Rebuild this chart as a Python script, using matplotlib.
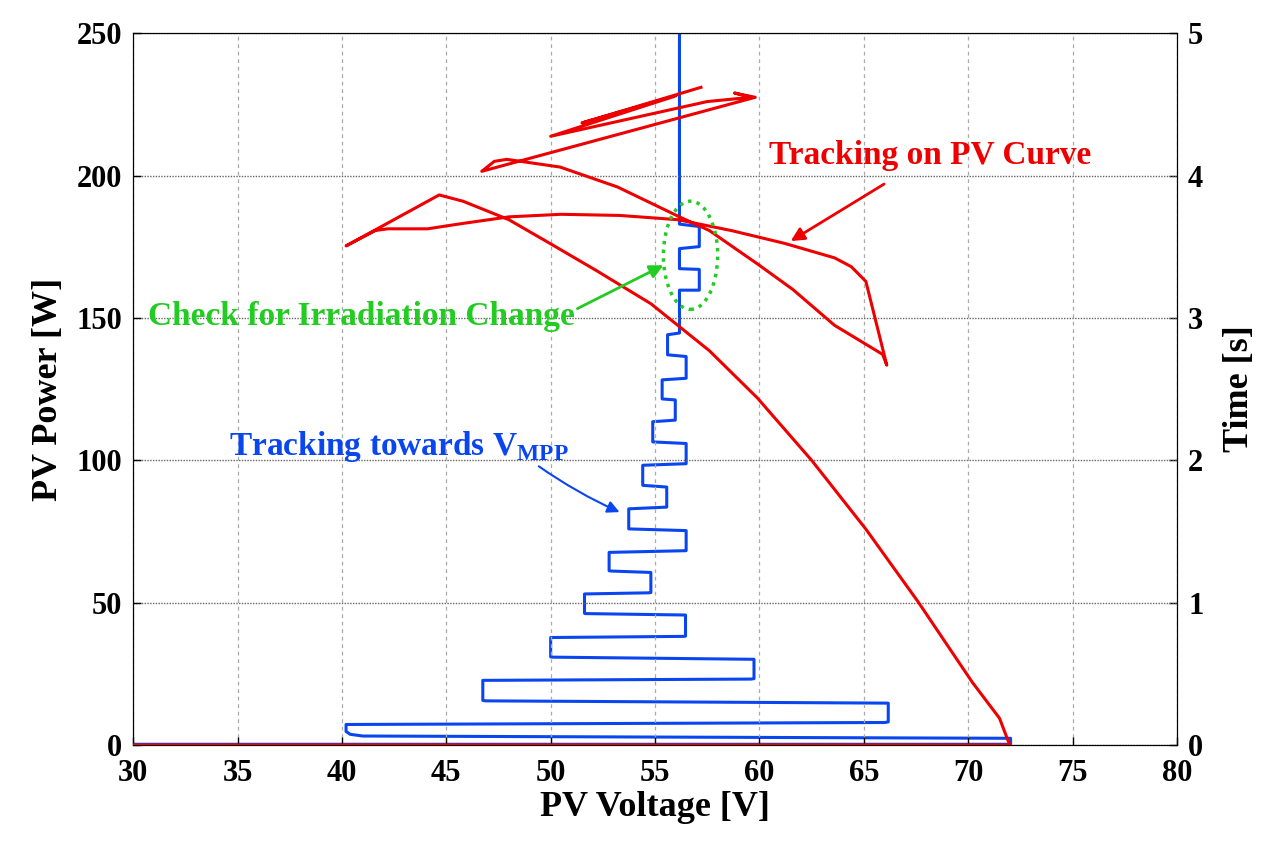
import numpy as np
import matplotlib.pyplot as plt
from matplotlib.patches import Ellipse

# red P-V trajectory (V, P)
pv_v = [30, 72.0, 71.9, 71.5, 70.2, 67.6, 65.1, 62.5, 59.9, 57.6, 54.8, 52.2, 50.1, 48.0, 45.8, 44.66,
        40.2, 41.6, 42.2, 44.1, 45.8, 48.0, 50.5, 53.3, 56.1, 58.65, 61.2, 63.6, 64.4, 65.1, 66.1,
        65.9, 63.6, 61.6, 59.9, 57.6, 56.2, 53.2, 50.45, 47.9, 47.3, 46.7,
        59.8, 58.8, 59.6, 57.5, 50.0, 56.0, 51.5, 57.2]
pv_p = [0, 0, 1.7, 9.4, 22, 50.3, 75.8, 100, 121.9, 138.5, 155, 166.6, 175.6, 184.5, 191, 193.2,
        175.3, 180.7, 181.3, 181.3, 183.2, 185.5, 186.4, 186, 184.5, 180.7, 176.2, 171.1, 168, 162.8, 133.4,
        137.2, 147.4, 160, 169, 180.7, 185.4, 196, 203, 205.7, 205, 201.5,
        227.5, 229, 227.5, 226, 213.8, 228, 218.5, 231]

# blue voltage vs time trajectory (V, t)
tr_v = [30, 72.03, 72.03, 41.0, 40.4, 40.2, 40.2, 66.0, 66.17, 66.17, 46.9, 46.75, 46.75, 59.6, 59.74,
        59.74, 50.1, 50.0, 50.0, 56.4, 56.46, 56.46, 51.7, 51.62, 51.62, 54.7, 54.8, 54.8, 52.9, 52.8,
        52.8, 56.49, 56.49, 53.74, 53.74, 55.56, 55.56, 54.41, 54.41, 56.49, 56.49, 54.89, 54.89,
        55.97, 55.97, 55.34, 55.34, 56.49, 56.49, 55.6, 55.6, 56.17, 56.17, 57.12, 57.12, 56.17,
        56.17, 57.12, 57.12, 56.17, 56.17]
tr_t = [0.005, 0.005, 0.047, 0.063, 0.075, 0.095, 0.144, 0.158, 0.162, 0.294, 0.31, 0.313, 0.454, 0.463, 0.466,
        0.602, 0.617, 0.619, 0.755, 0.763, 0.765, 0.913, 0.923, 0.925, 1.061, 1.069, 1.071, 1.212, 1.222, 1.224,
        1.353, 1.365, 1.506, 1.518, 1.659, 1.671, 1.812, 1.824, 1.965, 1.976, 2.118, 2.129, 2.271,
        2.282, 2.424, 2.431, 2.565, 2.576, 2.729, 2.741, 2.882, 2.894, 3.195, 3.195, 3.341, 3.346,
        3.487, 3.501, 3.642, 3.659, 5.0]

x_ticks = np.arange(30, 81, 5)
p_ticks = np.arange(0, 251, 50)
t_ticks = np.arange(0, 6, 1)

plt.rcParams['font.family'] = ['Liberation Serif', 'DejaVu Serif']
plt.rcParams['font.weight'] = 'bold'
plt.rcParams['mathtext.fontset'] = 'custom'
plt.rcParams['mathtext.rm'] = 'Liberation Serif:bold'
plt.rcParams['mathtext.bf'] = 'Liberation Serif:bold'

fig = plt.figure(figsize=(12.8, 8.52), dpi=100)
ax = fig.add_axes([0.104, 0.1256, 0.8155, 0.8354])
ax2 = ax.twinx()

ax.set_xlim(30, 80)
ax.set_ylim(0, 250)
ax2.set_ylim(0, 5)
ax.set_xticks(x_ticks)
ax.set_yticks(p_ticks)
ax2.set_yticks(t_ticks)

for a in (ax, ax2):
   a.tick_params(direction='in', labelsize=22, length=6, width=1)
ax.tick_params(axis='x', pad=10)
ax.tick_params(axis='y', pad=8)
ax2.tick_params(axis='y', pad=8)

ax.xaxis.grid(True, color='#aaaaaa', linestyle=(0, (3, 3)), linewidth=0.9)
ax.yaxis.grid(True, color='#666666', linestyle=(0, (1, 1)), linewidth=1.0)
ax.set_axisbelow(True)

ax2.plot(tr_v, tr_t, color='#0a46f0', linewidth=2.2, zorder=2)
ax.set_zorder(ax2.get_zorder() + 1)
ax.patch.set_visible(False)
ax.plot(pv_v, pv_p, color='#ee0000', linewidth=2.2, zorder=3)

ax.set_xlabel('PV Voltage [V]', fontsize=26, fontweight='bold', labelpad=2)
ax.set_ylabel('PV Power [W]', fontsize=26, fontweight='bold', labelpad=8)
ax2.set_ylabel('Time [s]', fontsize=26, fontweight='bold', rotation=90, labelpad=14)

ell = Ellipse((56.7, 172), 2.6, 38, fill=False, edgecolor='#22cc22', linestyle=(0, (1, 1.5)),
              linewidth=2.5, zorder=4)
ax.add_patch(ell)

ax.annotate('Tracking on PV Curve', xy=(61.5, 177), xytext=(68.2, 207), color='#ee0000',
            fontsize=24, fontweight='bold', ha='center', va='center',
            arrowprops=dict(arrowstyle='-|>', color='#ee0000', lw=2, mutation_scale=20,
                            shrinkA=14, shrinkB=0))
ax.annotate('Check for Irradiation Change', xy=(55.4, 168.5), xytext=(30.7, 150.6), color='#22cc22',
            fontsize=24, fontweight='bold', ha='left', va='center',
            arrowprops=dict(arrowstyle='-|>', color='#22cc22', lw=2, mutation_scale=20,
                            shrinkA=0, shrinkB=0, relpos=(1.0, 0.7)))
ax.annotate(r'Tracking towards V$_{\mathrm{MPP}}$', xy=(53.3, 81.8), xytext=(34.6, 105), color='#0a46f0',
            fontsize=24, fontweight='bold', ha='left', va='center',
            arrowprops=dict(arrowstyle='-|>', color='#0a46f0', lw=1.5, mutation_scale=18,
                            shrinkA=0, shrinkB=0, relpos=(0.9, 0.0),
                            connectionstyle='arc3,rad=0.05'))

fig.savefig('out.png', dpi=100)
